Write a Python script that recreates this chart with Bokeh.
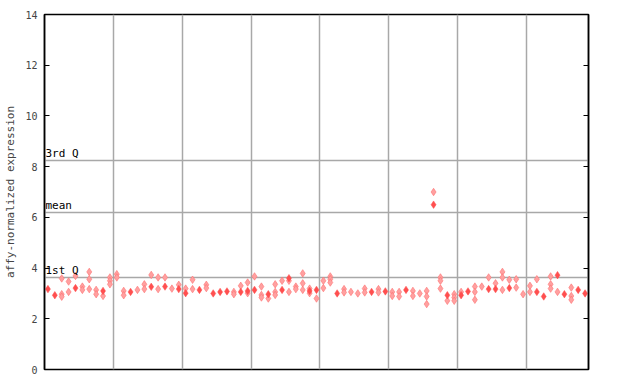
from bokeh.plotting import figure
from bokeh.models import LinearAxis, FixedTicker, Grid, Label, Range1d
from bokeh.embed import file_html
from bokeh.resources import INLINE

n_samples = 79
group_lines = [10, 20, 30, 40, 50, 60, 70]
y_ticks = [0, 2, 4, 6, 8, 10, 12, 14]
quantiles = {"3rd Q": 8.25, "mean": 6.21, "1st Q": 3.63}

red_cols = [0, 1, 4, 8, 12, 15, 17, 19, 20, 22, 24, 25, 26, 28, 29, 30, 32, 34, 35,
            38, 39, 42, 47, 49, 52, 56, 58, 60, 61, 64, 65, 67, 71, 72, 74, 75, 77, 78]
red_vals = [3.17, 2.93, 3.21, 3.10, 3.06, 3.26, 3.27, 3.17, 3.01, 3.14, 3.00, 3.06, 3.08,
            3.06, 3.10, 3.14, 2.97, 3.14, 3.60, 3.10, 3.14, 3.00, 3.06, 3.08, 3.14, 6.50,
            2.93, 2.93, 3.08, 3.17, 3.17, 3.21, 3.06, 2.88, 3.72, 2.97, 3.14, 3.00]

rep_cols = [2, 2, 2, 3, 3, 4, 5, 5, 6, 6, 6, 7, 7, 8, 9, 9, 9, 10, 10, 11, 11, 13, 14, 14,
            15, 16, 16, 17, 18, 19, 20, 21, 21, 23, 23, 27, 27, 28, 29, 29, 30, 31, 31, 31,
            32, 33, 33, 33, 34, 35, 35, 36, 36, 37, 37, 37, 38, 38, 39, 40, 40, 41, 41, 41,
            43, 43, 44, 45, 46, 46, 48, 48, 50, 50, 51, 51, 53, 53, 54, 55, 55, 55, 56,
            57, 57, 57, 58, 59, 59, 59, 60, 62, 62, 62, 63, 64, 65, 66, 66, 66, 67, 68, 68,
            69, 70, 70, 71, 73, 73, 73, 74, 76, 76, 76]
rep_vals = [3.59, 2.97, 2.87, 3.47, 3.06, 3.69, 3.27, 3.14, 3.85, 3.56, 3.17, 3.14, 2.97,
            2.90, 3.63, 3.50, 3.36, 3.76, 3.63, 3.10, 2.93, 3.14, 3.36, 3.17, 3.73, 3.63,
            3.17, 3.63, 3.19, 3.34, 3.19, 3.54, 3.17, 3.34, 3.21, 3.06, 2.97, 3.30, 3.43,
            3.01, 3.67, 3.27, 2.94, 2.84, 2.80, 3.36, 3.06, 2.94, 3.50, 3.50, 3.06, 3.27,
            3.17, 3.79, 3.40, 3.14, 3.19, 3.01, 2.80, 3.50, 3.21, 3.67, 3.56, 3.43, 3.17,
            3.04, 3.06, 3.00, 3.19, 3.04, 3.17, 3.04, 3.06, 2.90, 3.06, 2.88, 3.10, 2.90,
            3.00, 3.10, 2.88, 2.58, 7.00, 3.63, 3.50, 3.19, 2.71, 2.97, 2.84, 2.71, 3.06,
            3.27, 3.06, 2.75, 3.27, 3.63, 3.40, 3.85, 3.63, 3.14, 3.54, 3.56, 3.23, 2.97,
            3.30, 3.06, 3.56, 3.67, 3.36, 3.19, 3.06, 3.23, 2.90, 2.75]

FONT = "DejaVu Sans Mono"
GRID = "#a8a8a8"

p = figure(width=640, height=384, output_backend="svg", toolbar_location=None,
           x_range=Range1d(0, n_samples), y_range=Range1d(0, 14),
           min_border_left=44, min_border_right=52, min_border_top=14, min_border_bottom=15)
p.xaxis.visible = False
p.xgrid.visible = False
p.ygrid.visible = False
p.outline_line_color = "black"
p.outline_line_width = 1.5
p.background_fill_color = "white"
p.border_fill_color = "white"

ya = p.yaxis[0]
ya.ticker = FixedTicker(ticks=y_ticks)
ya.major_tick_in = 5
ya.major_tick_out = 0
ya.minor_tick_line_color = None
ya.axis_line_color = "black"
ya.axis_line_width = 1.5
ya.major_label_text_font = FONT
ya.major_label_text_font_size = "10px"
ya.major_label_standoff = 7
ya.axis_label = "affy-normalized expression"
ya.axis_label_text_font = FONT
ya.axis_label_text_font_size = "11px"
ya.axis_label_text_font_style = "normal"
ya.axis_label_standoff = 5

ra = LinearAxis(ticker=FixedTicker(ticks=y_ticks), major_tick_in=5, major_tick_out=0,
                minor_tick_line_color=None, major_label_text_color=None,
                axis_line_color="black", axis_line_width=1.5)
p.add_layout(ra, "right")

vg = Grid(dimension=0, ticker=FixedTicker(ticks=group_lines), grid_line_color=GRID,
          grid_line_width=1.5)
p.add_layout(vg, "center")
hg = Grid(dimension=1, ticker=FixedTicker(ticks=list(quantiles.values())),
          grid_line_color=GRID, grid_line_width=1.5)
p.add_layout(hg, "center")

for name, v in quantiles.items():
    p.add_layout(Label(x=0, y=v, text=name, x_offset=1, y_offset=0,
                       text_baseline="bottom", text_font=FONT, text_font_size="11px",
                       text_color="black"))

p.scatter([c + 0.5 for c in rep_cols], rep_vals, marker="diamond", size=7.5,
          fill_color="#ffa0a0", line_color="#ff7070", line_width=0.6)
p.scatter([c + 0.5 for c in red_cols], red_vals, marker="diamond", size=7.5,
          fill_color="#ff4f4f", line_color="#ff4f4f", line_width=0.5)

open("out.html", "w").write(file_html(p, INLINE))
